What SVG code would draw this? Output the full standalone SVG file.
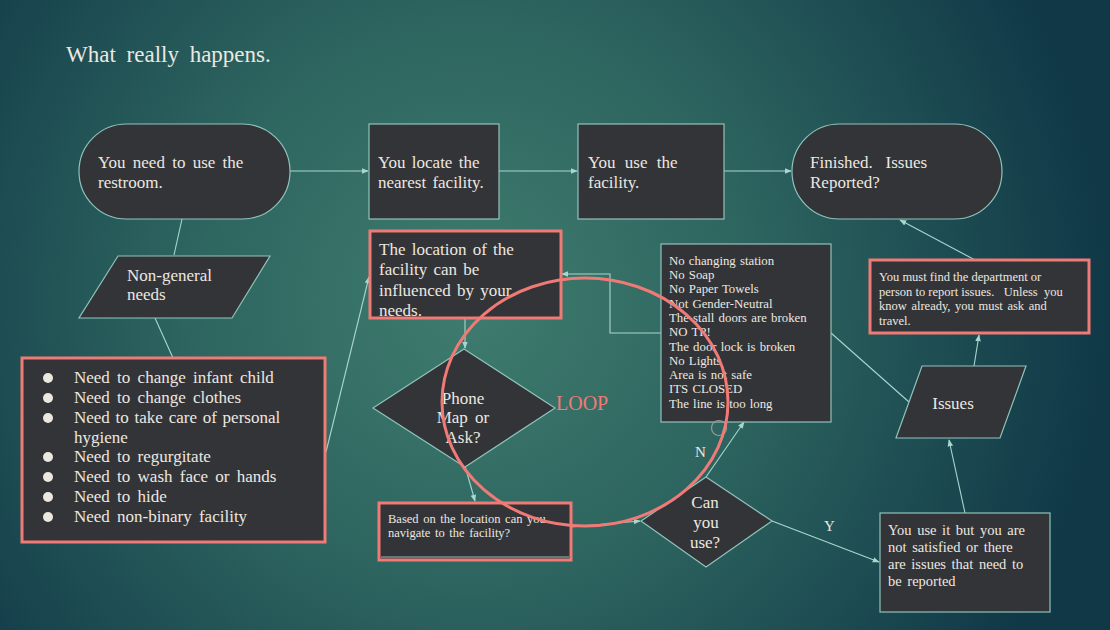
<svg xmlns="http://www.w3.org/2000/svg" width="1110" height="630" viewBox="0 0 1110 630">
<defs>
<radialGradient id="bg" cx="470" cy="300" r="640" gradientUnits="userSpaceOnUse">
<stop offset="0" stop-color="#3f7c6e"/>
<stop offset="0.45" stop-color="#2d645f"/>
<stop offset="1" stop-color="#103847"/>
</radialGradient>
<marker id="ah" viewBox="0 0 10 10" refX="9" refY="5" markerWidth="7" markerHeight="7" orient="auto" markerUnits="userSpaceOnUse">
<path d="M0,1 L10,5 L0,9 Z" fill="#a9d6cf"/>
</marker>
<style>
.n{fill:#333438;stroke:#8fc3bb;stroke-width:1.2}
.r{fill:#333438;stroke:#f07a76;stroke-width:3}
.t{font-family:"Liberation Serif","DejaVu Serif",serif;fill:#ece8e0}
.c{fill:none;stroke:#a9d6cf;stroke-width:1.1}
.ca{fill:none;stroke:#a9d6cf;stroke-width:1.1;marker-end:url(#ah)}
</style>
</defs>
<rect width="1110" height="630" fill="url(#bg)"/>
<text class="t" x="66" y="62" font-size="23" word-spacing="5">What really happens.</text>

<g id="connectors">
<path class="ca" d="M290,171 L368,171"/>
<path class="ca" d="M499,171 L577,171"/>
<path class="ca" d="M724,171 L791,171"/>
<path class="c" d="M182,219 L174,255"/>
<path class="c" d="M155,318 L173,358"/>
<path class="ca" d="M326,452 L369,277"/>
<path class="ca" d="M465,318 L465,348"/>
<path class="ca" d="M465,466 L475,501"/>
<path class="ca" d="M571,527 L640,521"/>
<path class="ca" d="M706,477 L744,422"/>
<path class="ca" d="M661,333 L610,333 L610,274 L562,274"/>
<path class="c" d="M831,333 L909,402"/>
<path class="ca" d="M965,513 L949,440"/>
<path class="ca" d="M974,366 L979,335"/>
<path class="ca" d="M975,260 L900,220"/>
<path class="ca" d="M772,521 L879,562"/>
<text class="t" x="695" y="457" font-size="15">N</text>
<text class="t" x="824" y="531" font-size="15">Y</text>
</g>

<g id="start">
<rect class="n" x="79" y="124" width="211" height="95" rx="47.5"/>
<text class="t" font-size="17" word-spacing="3"><tspan x="98" y="168">You need to use the</tspan><tspan x="98" y="188">restroom.</tspan></text>
</g>
<g id="locate">
<rect class="n" x="369" y="124" width="130" height="95"/>
<text class="t" font-size="17" word-spacing="2"><tspan x="378" y="168">You locate the</tspan><tspan x="378" y="188">nearest facility.</tspan></text>
</g>
<g id="use">
<rect class="n" x="578" y="124" width="146" height="95"/>
<text class="t" font-size="17" word-spacing="5"><tspan x="588" y="168">You use the</tspan><tspan x="588" y="188">facility.</tspan></text>
</g>
<g id="finished">
<rect class="n" x="792" y="124" width="210" height="95" rx="47.5"/>
<text class="t" font-size="17" xml:space="preserve"><tspan x="810" y="168">Finished.   Issues</tspan><tspan x="810" y="188">Reported?</tspan></text>
</g>
<g id="nongeneral">
<polygon class="n" points="118,256 270,256 232,318 79,318"/>
<text class="t" font-size="17"><tspan x="127" y="281">Non-general</tspan><tspan x="127" y="300">needs</tspan></text>
</g>
<g id="needs-list">
<rect class="r" x="22" y="358" width="303" height="184"/>
<g fill="#ece8e0">
<circle cx="48" cy="378" r="5"/><circle cx="48" cy="398" r="5"/><circle cx="48" cy="418" r="5"/><circle cx="48" cy="457" r="5"/><circle cx="48" cy="477" r="5"/><circle cx="48" cy="497" r="5"/><circle cx="48" cy="517" r="5"/>
</g>
<text class="t" font-size="17" word-spacing="3"><tspan x="74" y="383">Need to change infant child</tspan><tspan x="74" y="403">Need to change clothes</tspan><tspan x="74" y="423" word-spacing="1.5">Need to take care of personal</tspan><tspan x="74" y="443">hygiene</tspan><tspan x="74" y="462">Need to regurgitate</tspan><tspan x="74" y="482">Need to wash face or hands</tspan><tspan x="74" y="502">Need to hide</tspan><tspan x="74" y="522">Need non-binary facility</tspan></text>
</g>
<g id="location">
<rect class="r" x="370" y="231" width="191" height="87"/>
<text class="t" font-size="17" word-spacing="2"><tspan x="379" y="255">The location of the</tspan><tspan x="379" y="275">facility can be</tspan><tspan x="379" y="296">influenced by your</tspan><tspan x="379" y="316">needs.</tspan></text>
</g>
<g id="phone">
<polygon class="n" points="464,349 555,408 465,467 373,408"/>
<text class="t" font-size="17" text-anchor="middle"><tspan x="463" y="404">Phone</tspan><tspan x="463" y="423" word-spacing="3">Map or</tspan><tspan x="463" y="443">Ask?</tspan></text>
</g>
<g id="based">
<rect class="r" x="379" y="503" width="192" height="57"/>
<line x1="381" y1="557" x2="569" y2="557" stroke="#8fc3bb" stroke-width="1"/>
<text class="t" font-size="12.5" word-spacing="1.5"><tspan x="388" y="523">Based on the location can you</tspan><tspan x="388" y="537">navigate to the facility?</tspan></text>
</g>
<g id="canuse">
<polygon class="n" points="706,477 772,521 706,567 641,521"/>
<text class="t" font-size="17" text-anchor="middle"><tspan x="705" y="508">Can</tspan><tspan x="706" y="528">you</tspan><tspan x="705" y="548">use?</tspan></text>
</g>
<g id="issue-list">
<rect class="n" x="661" y="244" width="170" height="178"/>
<text class="t" font-size="12.8" word-spacing="1"><tspan x="669" y="265">No changing station</tspan><tspan x="669" y="279">No Soap</tspan><tspan x="669" y="293">No Paper Towels</tspan><tspan x="669" y="308">Not Gender-Neutral</tspan><tspan x="669" y="322">The stall doors are broken</tspan><tspan x="669" y="336">NO TP!</tspan><tspan x="669" y="351">The door lock is broken</tspan><tspan x="669" y="365">No Lights</tspan><tspan x="669" y="379">Area is not safe</tspan><tspan x="669" y="393">ITS CLOSED</tspan><tspan x="669" y="408">The line is too long</tspan></text>
<circle cx="719" cy="428" r="7.5" fill="none" stroke="#9a9a9a" stroke-width="1.2"/>
</g>
<g id="issues">
<polygon class="n" points="922,366 1026,366 1000,438 896,438"/>
<text class="t" x="953" y="409" font-size="17" text-anchor="middle">Issues</text>
</g>
<g id="report">
<rect class="r" x="870" y="260" width="219" height="73"/>
<text class="t" font-size="12.5"><tspan x="879" y="281">You must find the department or</tspan><tspan x="879" y="296" xml:space="preserve">person to report issues.   Unless  you</tspan><tspan x="879" y="310" word-spacing="1.5">know already, you must ask and</tspan><tspan x="879" y="325">travel.</tspan></text>
</g>
<g id="result">
<rect class="n" x="880" y="513" width="170" height="99"/>
<text class="t" font-size="14.5" word-spacing="2"><tspan x="888" y="535">You use it but you are</tspan><tspan x="888" y="552">not satisfied or there</tspan><tspan x="888" y="569">are issues that need to</tspan><tspan x="888" y="586">be reported</tspan></text>
</g>
<g id="loop">
<ellipse cx="585" cy="402" rx="143" ry="124" fill="none" stroke="#f07a76" stroke-width="3"/>
<text x="556" y="410" font-size="20" font-family="Liberation Serif, DejaVu Serif, serif" fill="#f07a76">LOOP</text>
</g>
</svg>
